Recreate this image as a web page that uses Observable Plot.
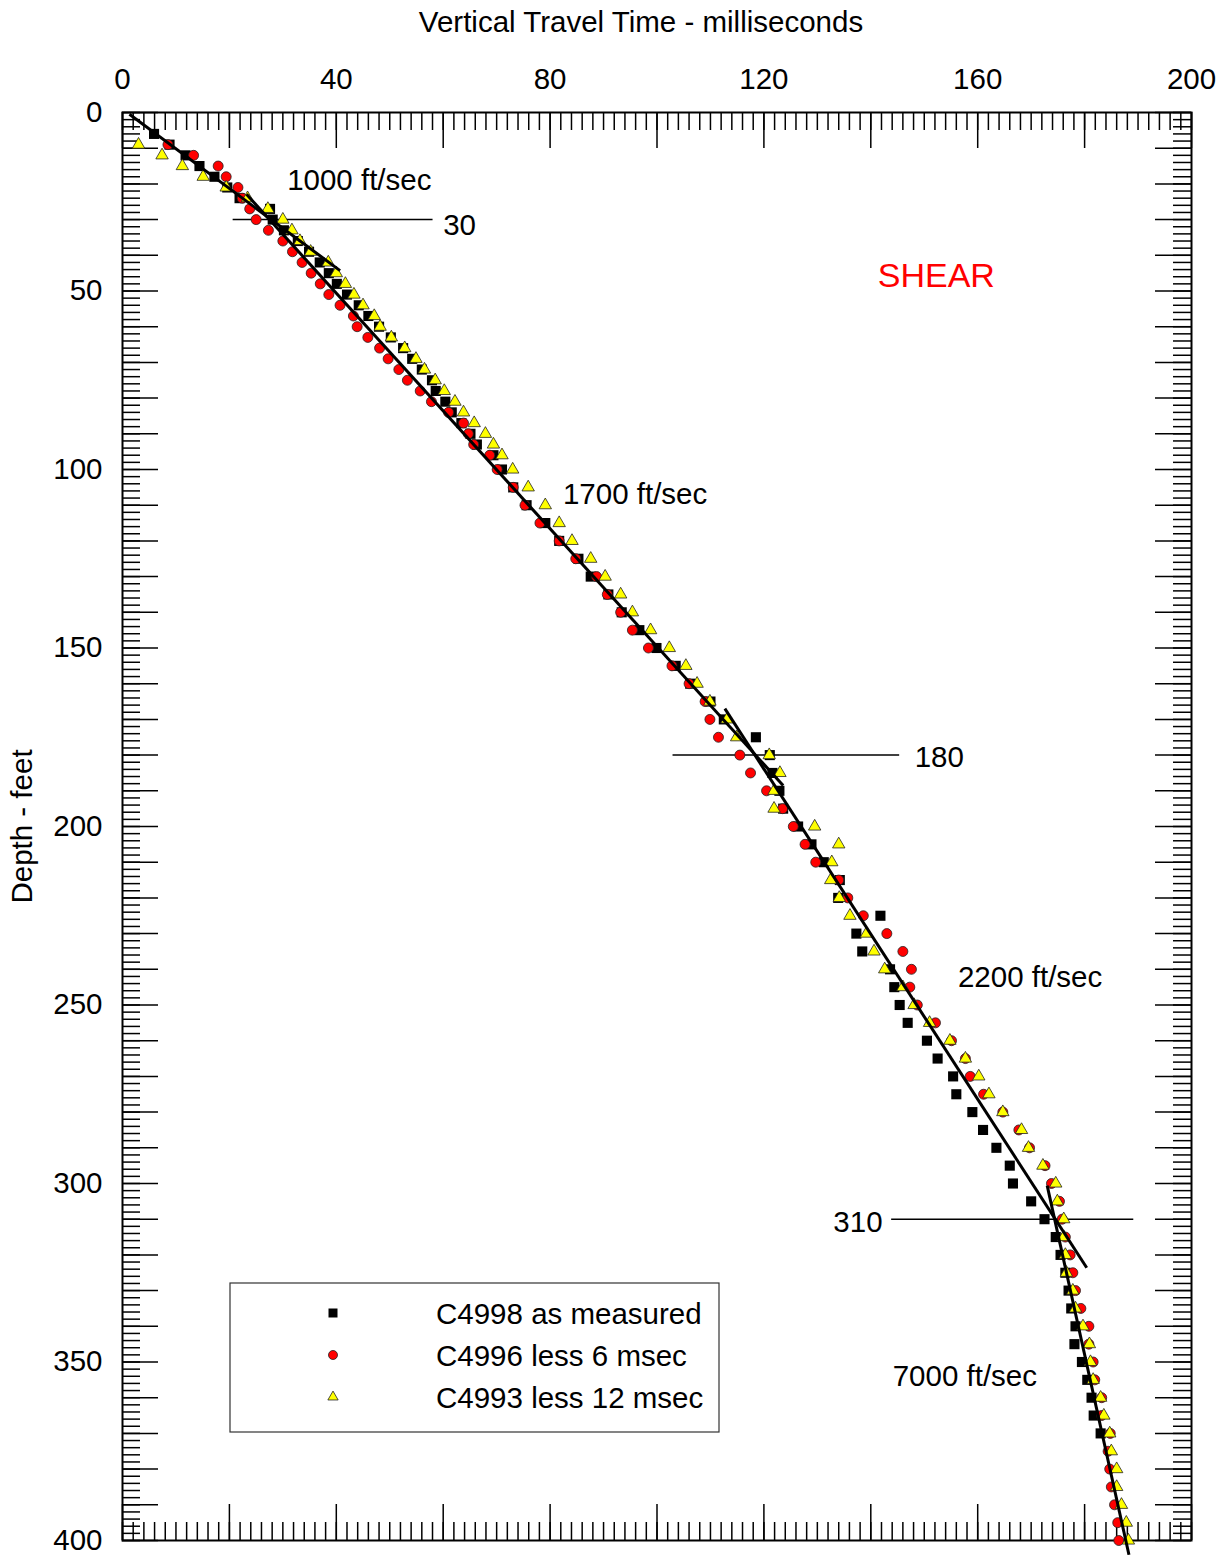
<!DOCTYPE html>
<html><head><meta charset="utf-8">
<script src="https://cdn.jsdelivr.net/npm/d3@7"></script>
<script src="https://cdn.jsdelivr.net/npm/@observablehq/plot@0.6"></script>
<style>body{margin:0;background:#fff} svg{display:block}</style>
</head><body><div id="chart"></div>
<script>
// ---------- data ----------
const depth = [6,9,12,15,18,21,24,27,30,33,36,39,42,45,48,51,54,57,60,63,66,69,72,75,78,81,84,87,90,93,96,
  100,105,110,115,120,125,130,135,140,145,150,155,160,165,170,175,180,185,190,195,200,205,210,215,220,225,230,235,240,245,250,
  255,260,265,270,275,280,285,290,295,300,305,310,315,320,325,330,335,340,345,350,355,360,365,370,375,380,385,390,395,400];

const c4998 = [5.9,8.8,11.8,14.4,17.2,19.6,21.9,27.6,28.1,30.2,32.8,34.9,36.9,38.6,40.1,42.0,44.2,46.0,48.0,50.2,52.5,54.2,56.0,57.9,58.6,60.4,61.6,63.4,65.1,66.3,69.4,
  71.0,73.1,75.6,79.1,81.7,85.3,87.6,90.9,93.4,96.7,99.9,103.5,106.2,110.0,112.5,118.5,121.1,121.6,122.9,123.6,126.4,128.9,131.2,134.2,133.9,141.8,137.3,138.4,143.6,144.4,145.4,
  146.9,150.5,152.5,155.4,156.0,159.0,161.0,163.5,166.0,166.6,170.0,172.5,174.6,175.5,176.4,177.0,177.5,178.3,178.1,179.5,180.5,181.3,181.7,183.0,null,null,null,null,null,null];

const c4996 = [null,8.5,13.3,17.9,19.4,21.6,22.4,23.8,25.0,27.3,30.0,31.8,33.6,35.3,37.0,38.6,40.7,43.2,43.9,45.9,48.1,49.7,51.7,53.3,55.7,57.8,61.0,63.8,64.7,65.7,68.7,
  70.1,73.1,75.3,78.1,81.7,84.8,88.7,90.7,93.2,95.4,98.4,102.8,106.0,109.0,109.9,111.5,115.5,117.5,120.5,123.5,125.5,127.7,129.7,134.0,135.7,138.6,143.0,146.0,147.6,147.3,148.7,
  152.1,155.1,157.7,158.6,161.1,164.7,167.7,169.7,172.6,173.8,175.3,175.8,176.4,177.3,177.8,178.3,179.3,180.8,180.8,181.6,181.9,183.2,183.2,184.8,184.4,184.7,185.0,185.6,186.2,186.4];

const c4993 = [null,3.0,7.4,11.2,15.1,19.4,23.4,27.2,30.0,31.7,33.2,35.2,38.5,40.0,41.7,43.3,45.0,47.1,48.2,50.3,52.8,54.9,56.5,58.5,60.2,62.2,63.8,65.8,67.9,69.4,71.0,
  73.0,75.9,79.1,81.7,84.1,87.6,90.3,93.2,95.4,98.8,102.3,105.4,107.5,109.9,113.1,114.9,121.0,123.0,121.9,121.9,129.5,134.0,132.7,132.5,134.1,136.1,139.2,140.6,142.6,146.0,148.1,
  151.0,154.8,157.7,160.2,162.1,164.7,168.2,169.5,172.2,174.6,174.9,176.1,176.1,176.4,176.6,177.8,178.3,179.7,180.9,181.1,181.6,183.0,183.6,184.7,185.0,186.0,186.0,186.9,187.8,188.2];

// fitted velocity segments (time ms, depth ft)
const fitLayer = ["1000", "1700", "2200", "7000"];
const fitT1 = [1.3, 23.2, 112.7, 173.0];
const fitD1 = [0.5, 22.9, 167.0, 300.6];
const fitT2 = [40.7, 123.6, 180.4, 188.3];
const fitD2 = [44.3, 188.5, 323.6, 404.0];

// layer boundaries
const boundaryDepth = [30, 180, 310];
const boundaryT1 = [20.7, 103.0, 143.9];
const boundaryT2 = [58.1, 145.4, 189.2];

// annotations
const noteText = ["1000 ft/sec", "30", "1700 ft/sec", "180", "2200 ft/sec", "7000 ft/sec"];
const noteT = [30.8, 60.0, 82.4, 148.2, 156.3, 144.1];
const noteD = [19.0, 31.7, 107.0, 180.7, 242.3, 354.1];
const noteEndText = ["310"];
const noteEndT = [142.2];
const noteEndD = [310.9];

const xTickLabels = [0, 40, 80, 120, 160, 200];
const yTickLabels = [0, 50, 100, 150, 200, 250, 300, 350, 400];
const seriesNames = ["C4998 as measured", "C4996 less 6 msec", "C4993 less 12 msec"];

// ---------- build ----------
const rows = (vals) => depth.map((d, i) => ({d, t: vals[i]})).filter(r => r.t != null);
const fits = fitLayer.map((l, i) => ({l, t1: fitT1[i], d1: fitD1[i], t2: fitT2[i], d2: fitD2[i]}));
const bounds = boundaryDepth.map((d, i) => ({d, t1: boundaryT1[i], t2: boundaryT2[i]}));
const notes = noteText.map((s, i) => ({s, t: noteT[i], d: noteD[i]}));
const notesEnd = noteEndText.map((s, i) => ({s, t: noteEndT[i], d: noteEndD[i]}));

const W = 1231, H = 1555, mL = 122, mR = 40, mT = 112, mB = 15;
const innerW = W - mL - mR, innerH = H - mT - mB;
const font = "'Liberation Sans', Arial, Helvetica, sans-serif";
const minor = 18, major = 36;
const FS = 29.5;

const xMinor = d3.range(0, 201, 2), xMajor = d3.range(0, 201, 20);
const yMinor = d3.range(0, 401, 2), yMajor = d3.range(0, 401, 10);
const tk = {stroke: "black", strokeWidth: 1.5};

const chart = Plot.plot({
  width: W, height: H, marginLeft: mL, marginRight: mR, marginTop: mT, marginBottom: mB,
  style: {fontFamily: font, fontSize: FS + "px", background: "white", color: "black"},
  x: {domain: [0, 200]},
  y: {domain: [0, 400], reverse: true},
  marks: [
    // inward ticks on all four sides
    Plot.tickX(xMinor, {x: d => d, insetBottom: innerH - minor, ...tk}),
    Plot.tickX(xMajor, {x: d => d, insetBottom: innerH - major, ...tk}),
    Plot.tickX(xMinor, {x: d => d, insetTop: innerH - minor, ...tk}),
    Plot.tickX(xMajor, {x: d => d, insetTop: innerH - major, ...tk}),
    Plot.tickY(yMinor, {y: d => d, insetRight: innerW - minor, ...tk}),
    Plot.tickY(yMajor, {y: d => d, insetRight: innerW - major, ...tk}),
    Plot.tickY(yMinor, {y: d => d, insetLeft: innerW - minor, ...tk}),
    Plot.tickY(yMajor, {y: d => d, insetLeft: innerW - major, ...tk}),
    Plot.axisX({anchor: "top", ticks: xTickLabels, tickSize: 0, tickPadding: 24, fontSize: FS, label: null}),
    Plot.axisY({anchor: "left", ticks: yTickLabels, tickSize: 0, tickPadding: 20, fontSize: FS, label: null}),
    Plot.frame({stroke: "black", strokeWidth: 2}),
    // titles
    Plot.text(["Vertical Travel Time - milliseconds"], {text: d => d, frameAnchor: "top", lineAnchor: "middle", textAnchor: "middle", dy: -90, dx: -16, fontSize: FS}),
    Plot.text(["Depth - feet"], {text: d => d, frameAnchor: "left", lineAnchor: "middle", textAnchor: "middle", rotate: -90, dx: -100, fontSize: FS}),
    // boundaries
    Plot.ruleY(bounds, {y: "d", x1: "t1", x2: "t2", stroke: "black", strokeWidth: 1.5}),
    // data
    Plot.dot(rows(c4998), {x: "t", y: "d", symbol: "square", r: 5.7, fill: "black", stroke: "none"}),
    Plot.dot(rows(c4996), {x: "t", y: "d", symbol: "circle", r: 5.0, fill: "#ff0000", stroke: "#222", strokeWidth: 0.8}),
    Plot.dot(rows(c4993), {x: "t", y: "d", symbol: "triangle", r: 4.6, fill: "#ffff00", stroke: "#222", strokeWidth: 0.8}),
    // fits
    Plot.link(fits, {x1: "t1", y1: "d1", x2: "t2", y2: "d2", stroke: "black", strokeWidth: 3}),
    // annotations
    Plot.text(notes, {x: "t", y: "d", text: "s", textAnchor: "start", fontSize: FS, fill: "black"}),
    Plot.text(notesEnd, {x: "t", y: "d", text: "s", textAnchor: "end", fontSize: FS, fill: "black"}),
    Plot.text(["SHEAR"], {text: d => d, x: [141.3], y: [45.7], textAnchor: "start", fontSize: 34, fill: "#ff0000"})
  ]
});

document.getElementById("chart").appendChild(chart);

// ---------- legend ----------
const svg = d3.select(chart);
const lg = svg.append("g").attr("font-family", font).attr("font-size", FS).attr("text-anchor", "start");
lg.append("rect").attr("x", 230).attr("y", 1283).attr("width", 489).attr("height", 149)
  .attr("fill", "white").attr("stroke", "#333").attr("stroke-width", 1.2);
const legendSym = [
  {type: d3.symbolSquare, size: 81, fill: "black", stroke: "none"},
  {type: d3.symbolCircle, size: 64, fill: "#ff0000", stroke: "#222"},
  {type: d3.symbolTriangle, size: 46, fill: "#ffff00", stroke: "#222"}
];
seriesNames.forEach((name, i) => {
  const cy = 1313 + i * 42;
  const s = legendSym[i];
  lg.append("path").attr("d", d3.symbol(s.type, s.size)())
    .attr("transform", `translate(333,${cy})`)
    .attr("fill", s.fill).attr("stroke", s.stroke).attr("stroke-width", 0.8);
  lg.append("text").attr("x", 436).attr("y", cy + 11).attr("text-anchor", "start").attr("fill", "black").text(name);
});
</script>
</body></html>
